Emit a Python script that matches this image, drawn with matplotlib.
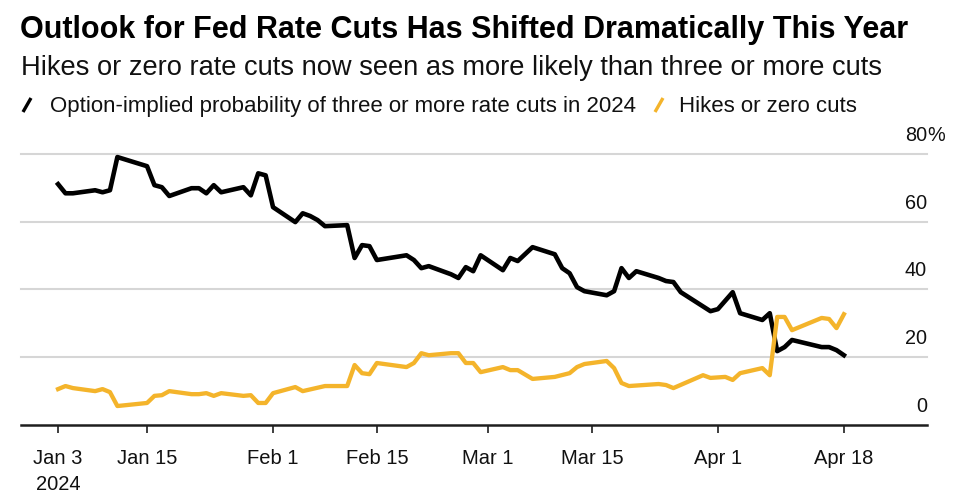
import matplotlib
matplotlib.use('Agg')
import matplotlib.pyplot as plt
import pandas as pd
from matplotlib.lines import Line2D

plt.rcParams['font.family'] = ['Liberation Sans', 'DejaVu Sans']

# Option-implied probability of three or more cuts (%)
cut_dates = ['2024-01-03', '2024-01-04', '2024-01-05', '2024-01-08', '2024-01-09', '2024-01-10',
             '2024-01-11', '2024-01-15', '2024-01-16', '2024-01-17', '2024-01-18', '2024-01-21',
             '2024-01-22', '2024-01-23', '2024-01-24', '2024-01-25', '2024-01-28', '2024-01-29',
             '2024-01-30', '2024-01-31', '2024-02-01', '2024-02-04', '2024-02-05', '2024-02-06',
             '2024-02-07', '2024-02-08', '2024-02-11', '2024-02-12', '2024-02-13', '2024-02-14',
             '2024-02-15', '2024-02-19', '2024-02-20', '2024-02-21', '2024-02-22', '2024-02-25',
             '2024-02-26', '2024-02-27', '2024-02-28', '2024-02-29', '2024-03-03', '2024-03-04',
             '2024-03-05', '2024-03-07', '2024-03-10', '2024-03-11', '2024-03-12', '2024-03-13',
             '2024-03-14', '2024-03-17', '2024-03-18', '2024-03-19', '2024-03-20', '2024-03-21',
             '2024-03-24', '2024-03-25', '2024-03-26', '2024-03-27', '2024-03-31', '2024-04-01',
             '2024-04-03', '2024-04-04', '2024-04-07', '2024-04-08', '2024-04-09', '2024-04-10',
             '2024-04-11', '2024-04-15', '2024-04-16', '2024-04-17', '2024-04-18']
cut_vals = [71.1, 68.4, 68.4, 69.3, 68.7, 69.3,
            79.1, 76.4, 70.8, 70.2, 67.6, 69.9,
            69.9, 68.4, 70.8, 68.7, 70.2, 67.8,
            74.3, 73.7, 64.3, 59.9, 62.5, 61.7,
            60.5, 58.7, 59.0, 49.3, 53.1, 52.8,
            48.7, 50.1, 48.7, 46.3, 46.9, 44.5,
            43.4, 46.6, 45.4, 50.1, 45.7, 49.3,
            48.4, 52.5, 50.4, 46.3, 44.8, 40.7,
            39.5, 38.3, 39.5, 46.3, 43.4, 45.4,
            43.4, 42.5, 42.2, 39.2, 33.6, 34.2,
            39.2, 33.0, 31.0, 33.0, 21.8, 23.0,
            25.1, 23.0, 23.0, 22.1, 20.6]

# Hikes or zero cuts (%)
hike_dates = ['2024-01-03', '2024-01-04', '2024-01-05', '2024-01-08', '2024-01-09', '2024-01-10',
              '2024-01-11', '2024-01-15', '2024-01-16', '2024-01-17', '2024-01-18', '2024-01-21',
              '2024-01-22', '2024-01-23', '2024-01-24', '2024-01-25', '2024-01-28', '2024-01-29',
              '2024-01-30', '2024-01-31', '2024-02-01', '2024-02-04', '2024-02-05', '2024-02-08',
              '2024-02-11', '2024-02-12', '2024-02-13', '2024-02-14', '2024-02-15', '2024-02-19',
              '2024-02-20', '2024-02-21', '2024-02-22', '2024-02-25', '2024-02-26', '2024-02-27',
              '2024-02-28', '2024-02-29', '2024-03-03', '2024-03-04', '2024-03-05', '2024-03-07',
              '2024-03-10', '2024-03-12', '2024-03-13', '2024-03-14', '2024-03-17', '2024-03-18',
              '2024-03-19', '2024-03-20', '2024-03-24', '2024-03-25', '2024-03-26', '2024-03-30',
              '2024-03-31', '2024-04-02', '2024-04-03', '2024-04-04', '2024-04-07', '2024-04-08',
              '2024-04-09', '2024-04-10', '2024-04-11', '2024-04-15', '2024-04-16', '2024-04-17',
              '2024-04-18']
hike_vals = [10.6, 11.5, 10.9, 10.0, 10.6, 9.7,
             5.6, 6.5, 8.6, 8.8, 10.0, 9.1,
             9.1, 9.4, 8.6, 9.4, 8.6, 8.8,
             6.5, 6.5, 9.4, 11.2, 10.0, 11.5,
             11.5, 17.7, 15.3, 15.0, 18.3, 17.1,
             18.3, 21.2, 20.6, 21.2, 21.2, 18.3,
             18.3, 15.6, 17.1, 16.2, 16.2, 13.6,
             14.2, 15.3, 17.1, 18.0, 18.9, 16.8,
             12.4, 11.5, 12.1, 11.8, 10.9, 14.7,
             13.9, 14.2, 13.3, 15.3, 16.8, 14.7,
             31.9, 31.9, 28.0, 31.6, 31.3, 28.6,
             32.7]

tick_dates = ['2024-01-03', '2024-01-15', '2024-02-01', '2024-02-15',
              '2024-03-01', '2024-03-15', '2024-04-01', '2024-04-18']
tick_labels = ['Jan 3\n2024', 'Jan 15', 'Feb 1', 'Feb 15', 'Mar 1', 'Mar 15', 'Apr 1', 'Apr 18']
y_ticks = [0, 20, 40, 60, 80]

title = 'Outlook for Fed Rate Cuts Has Shifted Dramatically This Year'
subtitle = 'Hikes or zero rate cuts now seen as more likely than three or more cuts'
label_cut = 'Option-implied probability of three or more rate cuts in 2024'
label_hike = 'Hikes or zero cuts'

BLACK = '#000000'
YELLOW = '#F4B42B'
W, H = 971, 500

fig = plt.figure(figsize=(W / 100, H / 100), dpi=100)
ax = fig.add_axes([21 / W, 1 - 425 / H, 906 / W, 271 / H])

ax.plot(pd.to_datetime(cut_dates), cut_vals, color=BLACK, lw=3.3, zorder=3)
ax.plot(pd.to_datetime(hike_dates), hike_vals, color=YELLOW, lw=3.1, zorder=4)

ax.set_ylim(0, 80)
ax.set_xlim(pd.Timestamp('2023-12-29'), pd.Timestamp('2024-04-29 05:00'))

# gridlines and baseline
for v in y_ticks[1:]:
    ax.axhline(v, color='#d6d6d6', lw=1.5, zorder=1, clip_on=False)
for side in ['top', 'left', 'right']:
    ax.spines[side].set_visible(False)
ax.spines['bottom'].set_color('#1e1e1e')
ax.spines['bottom'].set_linewidth(1.8)

ax.set_yticks([])
for v in y_ticks:
    ax.annotate(str(v), xy=(1, v), xycoords=('axes fraction', 'data'),
                xytext=(0, 9.4), textcoords='offset points',
                ha='right', va='baseline', fontsize=14.3, color='#111111')
ax.annotate('%', xy=(1, 80), xycoords=('axes fraction', 'data'),
            xytext=(0, 9.4), textcoords='offset points',
            ha='left', va='baseline', fontsize=14.3, color='#111111')

ax.set_xticks(pd.to_datetime(tick_dates))
ax.set_xticklabels(tick_labels, fontsize=14.5, linespacing=1.5, color='#111111')
ax.tick_params(axis='x', length=6, width=1.2, pad=11, color='#1e1e1e')

# titles
fig.text(20 / W, 1 - 38 / H, title, fontsize=22, fontweight='bold', va='baseline', color='#000000')
fig.text(21 / W, 1 - 75 / H, subtitle, fontsize=19.6, va='baseline', color='#111111')

# legend
def slash(x0, color):
    fig.add_artist(Line2D([x0 / W, (x0 + 8) / W], [1 - 112 / H, 1 - 98 / H],
                          transform=fig.transFigure, color=color, lw=2.4,
                          solid_capstyle='butt'))

slash(23, BLACK)
t1 = fig.text(50 / W, 1 - 112 / H, label_cut, fontsize=16, va='baseline', color='#111111')
renderer = fig.canvas.get_renderer()
x_end = t1.get_window_extent(renderer).x1
slash(x_end + 19, YELLOW)
fig.text((x_end + 43) / W, 1 - 112 / H, label_hike, fontsize=16, va='baseline', color='#111111')

fig.savefig('out.png', dpi=100)
